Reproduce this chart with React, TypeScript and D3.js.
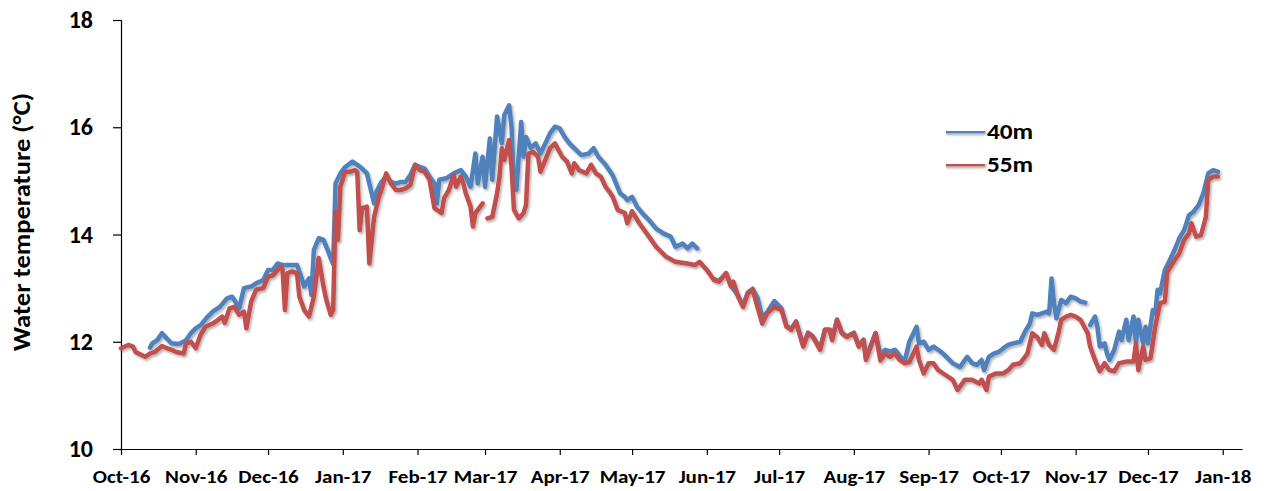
import { useEffect, useRef } from "react";
import * as d3 from "d3";

// 55m logger (red) — daily means
const dates55 = [
  "2016-10-01", "2016-10-04", "2016-10-06", "2016-10-07", "2016-10-11", "2016-10-13", "2016-10-15", "2016-10-18",
  "2016-10-20", "2016-10-22", "2016-10-24", "2016-10-27", "2016-10-28", "2016-10-30", "2016-11-01", "2016-11-03",
  "2016-11-05", "2016-11-08", "2016-11-10", "2016-11-12", "2016-11-13", "2016-11-15", "2016-11-17", "2016-11-19",
  "2016-11-21", "2016-11-22", "2016-11-24", "2016-11-26", "2016-11-29", "2016-12-01", "2016-12-03", "2016-12-05",
  "2016-12-06", "2016-12-07", "2016-12-08", "2016-12-09", "2016-12-11", "2016-12-13", "2016-12-14", "2016-12-16",
  "2016-12-18", "2016-12-20", "2016-12-22", "2016-12-24", "2016-12-25", "2016-12-27", "2016-12-28", "2016-12-29",
  "2016-12-30", "2016-12-31", "2017-01-02", "2017-01-04", "2017-01-06", "2017-01-07", "2017-01-08", "2017-01-09",
  "2017-01-11", "2017-01-12", "2017-01-14", "2017-01-16", "2017-01-17", "2017-01-19", "2017-01-21", "2017-01-23",
  "2017-01-25", "2017-01-27", "2017-01-29", "2017-01-31", "2017-02-02", "2017-02-04", "2017-02-06", "2017-02-08",
  "2017-02-10", "2017-02-11", "2017-02-12", "2017-02-14", "2017-02-16", "2017-02-17", "2017-02-19", "2017-02-20",
  "2017-02-21", "2017-02-23", "2017-02-24", "2017-02-25", "2017-02-27", "2017-02-28", "2017-03-01", "2017-03-02",
  "2017-03-04", "2017-03-06", "2017-03-07", "2017-03-08", "2017-03-09", "2017-03-11", "2017-03-12", "2017-03-13",
  "2017-03-15", "2017-03-17", "2017-03-18", "2017-03-19", "2017-03-21", "2017-03-23", "2017-03-24", "2017-03-26",
  "2017-03-28", "2017-03-30", "2017-03-31", "2017-04-02", "2017-04-04", "2017-04-06", "2017-04-07", "2017-04-09",
  "2017-04-12", "2017-04-14", "2017-04-16", "2017-04-18", "2017-04-20", "2017-04-22", "2017-04-23", "2017-04-25",
  "2017-04-28", "2017-04-29", "2017-05-01", "2017-05-04", "2017-05-08", "2017-05-11", "2017-05-15", "2017-05-19",
  "2017-05-24", "2017-05-27", "2017-05-29", "2017-06-01", "2017-06-04", "2017-06-06", "2017-06-09", "2017-06-11",
  "2017-06-12", "2017-06-14", "2017-06-16", "2017-06-18", "2017-06-20", "2017-06-22", "2017-06-24", "2017-06-26",
  "2017-06-29", "2017-07-02", "2017-07-04", "2017-07-06", "2017-07-08", "2017-07-11", "2017-07-13", "2017-07-15",
  "2017-07-18", "2017-07-20", "2017-07-22", "2017-07-23", "2017-07-25", "2017-07-27", "2017-07-29", "2017-08-01",
  "2017-08-03", "2017-08-05", "2017-08-06", "2017-08-08", "2017-08-10", "2017-08-12", "2017-08-14", "2017-08-16",
  "2017-08-18", "2017-08-20", "2017-08-22", "2017-08-24", "2017-08-27", "2017-08-28", "2017-08-30", "2017-09-01",
  "2017-09-03", "2017-09-05", "2017-09-08", "2017-09-11", "2017-09-13", "2017-09-16", "2017-09-19", "2017-09-22",
  "2017-09-23", "2017-09-25", "2017-09-26", "2017-09-29", "2017-10-02", "2017-10-04", "2017-10-06", "2017-10-09",
  "2017-10-12", "2017-10-14", "2017-10-16", "2017-10-18", "2017-10-19", "2017-10-21", "2017-10-23", "2017-10-25",
  "2017-10-26", "2017-10-28", "2017-10-30", "2017-11-01", "2017-11-03", "2017-11-06", "2017-11-07", "2017-11-09",
  "2017-11-11", "2017-11-13", "2017-11-15", "2017-11-17", "2017-11-19", "2017-11-22", "2017-11-25", "2017-11-26",
  "2017-11-27", "2017-11-29", "2017-11-30", "2017-12-02", "2017-12-04", "2017-12-06", "2017-12-08", "2017-12-09",
  "2017-12-12", "2017-12-14", "2017-12-16", "2017-12-18", "2017-12-19", "2017-12-21", "2017-12-23", "2017-12-25",
  "2017-12-26", "2017-12-28", "2017-12-30",
];
const temp55: (number | null)[] = [
  11.88, 11.94, 11.91, 11.81, 11.72, 11.78, 11.81, 11.92,
  11.88, 11.85, 11.81, 11.78, 11.97, 12.0, 11.88, 12.13,
  12.28, 12.34, 12.4, 12.47, 12.35, 12.62, 12.65, 12.5,
  12.56, 12.25, 12.75, 12.97, 13.0, 13.21, 13.24, 13.34,
  13.4, 13.35, 12.59, 13.28, 13.31, 13.28, 12.84, 12.59,
  12.47, 12.84, 13.56, 13.03, 12.81, 12.5, 12.59, 14.43,
  13.9, 14.89, 15.17, 15.17, 15.2, 15.17, 14.08, 14.49,
  14.52, 13.46, 14.33, 14.7, 14.83, 15.14, 14.95, 14.83,
  14.83, 14.86, 14.92, 15.3, 15.2, 15.17, 15.02, 14.49,
  14.43, 14.4, 14.68, 14.83, 15.11, 14.89, 15.08, 14.95,
  14.77, 14.52, 14.15, 14.4, 14.52, 14.58, null, 14.3,
  14.33, 14.77, 15.08, 15.61, 15.39, 15.76, 15.26, 14.46,
  14.3, 14.4, 14.55, 15.51, 15.54, 15.45, 15.17, 15.39,
  15.61, 15.7, 15.61, 15.45, 15.36, 15.14, 15.33, 15.2,
  15.14, 15.3, 15.14, 15.08, 14.89, 14.77, 14.7, 14.46,
  14.4, 14.21, 14.43, 14.21, 13.96, 13.77, 13.59, 13.49,
  13.46, 13.43, 13.49, 13.34, 13.15, 13.12, 13.28, 13.03,
  13.12, 12.84, 12.65, 12.9, 12.97, 12.65, 12.34, 12.53,
  12.65, 12.59, 12.28, 12.22, 12.37, 11.91, 12.16, 12.09,
  11.85, 12.22, 12.22, 12.03, 12.41, 12.16, 12.09, 12.16,
  11.91, 12.03, 11.66, 11.91, 12.16, 11.65, 11.78, 11.72,
  11.78, 11.66, 11.6, 11.62, 11.91, 11.66, 11.41, 11.6,
  11.6, 11.47, 11.38, 11.29, 11.1, 11.29, 11.29, 11.22,
  11.29, 11.1, 11.35, 11.41, 11.41, 11.47, 11.57, 11.6,
  11.78, 12.16, 12.09, 11.94, 12.16, 11.94, 11.85, 12.19,
  12.41, 12.47, 12.5, 12.47, 12.41, 12.16, 11.91, 11.66,
  11.45, 11.6, 11.47, 11.45, 11.6, 11.63, 11.63, 11.97,
  11.47, 11.91, 11.66, 11.69, 12.28, 12.72, 12.75, 13.3,
  13.52, 13.65, 13.9, 14.02, 14.21, 13.96, 13.99, 14.33,
  15.02, 15.08, 15.08,
];

// 40m logger (blue)
const dates40 = [
  "2016-10-13", "2016-10-14", "2016-10-16", "2016-10-18", "2016-10-20", "2016-10-22", "2016-10-25", "2016-10-28",
  "2016-10-30", "2016-11-01", "2016-11-03", "2016-11-06", "2016-11-08", "2016-11-11", "2016-11-14", "2016-11-16",
  "2016-11-17", "2016-11-19", "2016-11-21", "2016-11-24", "2016-11-26", "2016-11-29", "2016-12-01", "2016-12-03",
  "2016-12-05", "2016-12-07", "2016-12-09", "2016-12-11", "2016-12-13", "2016-12-15", "2016-12-16", "2016-12-18",
  "2016-12-19", "2016-12-20", "2016-12-22", "2016-12-24", "2016-12-26", "2016-12-27", "2016-12-28", "2016-12-29",
  "2016-12-31", "2017-01-02", "2017-01-05", "2017-01-07", "2017-01-09", "2017-01-11", "2017-01-12", "2017-01-14",
  "2017-01-15", "2017-01-17", "2017-01-19", "2017-01-21", "2017-01-23", "2017-01-25", "2017-01-27", "2017-01-29",
  "2017-01-31", "2017-02-02", "2017-02-04", "2017-02-06", "2017-02-08", "2017-02-09", "2017-02-10", "2017-02-13",
  "2017-02-16", "2017-02-19", "2017-02-21", "2017-02-23", "2017-02-25", "2017-02-26", "2017-02-28", "2017-03-01",
  "2017-03-03", "2017-03-04", "2017-03-06", "2017-03-08", "2017-03-09", "2017-03-11", "2017-03-12", "2017-03-13",
  "2017-03-14", "2017-03-16", "2017-03-17", "2017-03-18", "2017-03-20", "2017-03-22", "2017-03-24", "2017-03-26",
  "2017-03-28", "2017-03-30", "2017-04-01", "2017-04-03", "2017-04-05", "2017-04-07", "2017-04-10", "2017-04-13",
  "2017-04-15", "2017-04-17", "2017-04-20", "2017-04-23", "2017-04-26", "2017-04-28", "2017-04-29", "2017-05-01",
  "2017-05-03", "2017-05-06", "2017-05-08", "2017-05-11", "2017-05-14", "2017-05-17", "2017-05-19", "2017-05-22",
  "2017-05-24", "2017-05-26", "2017-05-28", "2017-05-29", "2017-06-04", "2017-06-06", "2017-06-09", "2017-06-11",
  "2017-06-14", "2017-06-16", "2017-06-18", "2017-06-20", "2017-06-22", "2017-06-24", "2017-06-26", "2017-06-29",
  "2017-07-02", "2017-07-04", "2017-07-06", "2017-07-08", "2017-07-11", "2017-07-13", "2017-07-15", "2017-07-18",
  "2017-07-20", "2017-07-22", "2017-07-23", "2017-07-25", "2017-07-27", "2017-07-29", "2017-08-01", "2017-08-03",
  "2017-08-05", "2017-08-06", "2017-08-08", "2017-08-10", "2017-08-12", "2017-08-14", "2017-08-16", "2017-08-18",
  "2017-08-20", "2017-08-22", "2017-08-24", "2017-08-27", "2017-08-28", "2017-08-30", "2017-09-01", "2017-09-03",
  "2017-09-05", "2017-09-07", "2017-09-09", "2017-09-11", "2017-09-14", "2017-09-17", "2017-09-19", "2017-09-21",
  "2017-09-23", "2017-09-24", "2017-09-26", "2017-09-28", "2017-09-30", "2017-10-02", "2017-10-04", "2017-10-06",
  "2017-10-09", "2017-10-11", "2017-10-13", "2017-10-14", "2017-10-16", "2017-10-18", "2017-10-20", "2017-10-21",
  "2017-10-22", "2017-10-23", "2017-10-24", "2017-10-26", "2017-10-28", "2017-10-30", "2017-11-01", "2017-11-03",
  "2017-11-05", "2017-11-06", "2017-11-07", "2017-11-09", "2017-11-10", "2017-11-11", "2017-11-13", "2017-11-14",
  "2017-11-15", "2017-11-17", "2017-11-19", "2017-11-20", "2017-11-22", "2017-11-23", "2017-11-25", "2017-11-26",
  "2017-11-27", "2017-11-29", "2017-11-30", "2017-12-01", "2017-12-03", "2017-12-04", "2017-12-05", "2017-12-06",
  "2017-12-08", "2017-12-10", "2017-12-12", "2017-12-14", "2017-12-16", "2017-12-18", "2017-12-20", "2017-12-22",
  "2017-12-24", "2017-12-26", "2017-12-28", "2017-12-30",
];
const temp40: (number | null)[] = [
  11.89, 11.97, 12.03, 12.16, 12.06, 11.97, 11.96, 12.03,
  12.16, 12.25, 12.31, 12.47, 12.56, 12.65, 12.81, 12.84,
  12.78, 12.62, 13.0, 13.03, 13.09, 13.15, 13.34, 13.34,
  13.46, 13.43, 13.43, 13.43, 13.43, 13.18, 13.03, 13.18,
  12.87, 13.71, 13.93, 13.9, 13.68, 13.56, 13.45, 14.95,
  15.14, 15.26, 15.36, 15.3, 15.23, 15.14, 14.95, 14.58,
  14.8, 14.98, 15.08, 14.98, 14.95, 14.98, 14.98, 15.11,
  15.3, 15.26, 15.23, 15.08, 14.95, 14.58, 15.02, 15.05,
  15.14, 15.2, 15.08, 14.89, 15.51, 14.95, 15.45, 14.89,
  15.79, 15.02, 16.2, 15.7, 16.23, 16.41, 16.01, 14.89,
  14.83, 16.1, 15.45, 15.82, 15.61, 15.7, 15.51, 15.7,
  15.89, 16.01, 15.98, 15.82, 15.7, 15.61, 15.48, 15.51,
  15.61, 15.45, 15.3, 15.1, 14.77, 14.7, 14.64, 14.7,
  14.52, 14.36, 14.27, 14.11, 14.02, 13.96, 13.77, 13.83,
  13.74, 13.83, 13.74, null, 13.17, 13.13, 13.28, 13.05,
  12.86, 12.67, 12.92, 12.99, 12.82, 12.45, 12.55, 12.76,
  12.62, 12.3, 12.24, 12.38, 11.93, 12.17, 12.1, 11.87,
  12.23, 12.23, 12.05, 12.41, 12.17, 12.1, 12.17, 11.93,
  12.04, 11.7, 11.93, 12.16, 11.76, 11.85, 11.82, 11.85,
  11.74, 11.62, 12.0, 12.28, 11.97, 12.0, 11.85, 11.91,
  11.85, 11.78, 11.69, 11.6, 11.53, 11.72, 11.6, 11.57,
  11.66, 11.47, 11.72, 11.78, 11.81, 11.88, 11.94, 11.97,
  12.0, 12.19, 12.34, 12.53, 12.5, 12.53, 12.56, 12.53,
  13.18, 12.72, 12.44, 12.78, 12.72, 12.84, 12.81, 12.75,
  12.73, null, 12.31, 12.47, 12.28, 11.91, 11.97, 11.78,
  11.66, 11.85, 12.19, 12.03, 12.41, 12.03, 12.47, 11.97,
  12.41, 11.97, 12.28, 11.97, 12.59, 12.53, 12.97, 12.9,
  13.34, 13.52, 13.71, 13.93, 14.08, 14.36, 14.43, 14.55,
  14.77, 15.14, 15.2, 15.17,
];

const seriesNames = ["40m", "55m"];
const seriesColors = ["#4F81BD", "#C0504D"];
const yTicks = [10, 12, 14, 16, 18];
const xStart = "2016-10-01";
const xEnd = "2018-01-09";
const yTitle = "Water temperature (°C)";

const W = 1265;
const H = 491;
const FONT = "Carlito, Calibri, Lato, sans-serif";

type Pt = { date: Date; value: number | null };

export default function App() {
  const ref = useRef<SVGSVGElement | null>(null);

  useEffect(() => {
    if (!ref.current) return;
    const parse = d3.timeParse("%Y-%m-%d");
    const svg = d3.select(ref.current);
    svg.selectAll("*").remove();

    const x = d3
      .scaleTime()
      .domain([parse(xStart)!, parse(xEnd)!])
      .range([121, 1242]);
    const y = d3.scaleLinear().domain([10, 18]).range([449, 20]);

    // soft drop shadow like the office chart effect
    const f = svg
      .append("defs")
      .append("filter")
      .attr("id", "shadow")
      .attr("filterUnits", "userSpaceOnUse")
      .attr("x", 0)
      .attr("y", 0)
      .attr("width", W)
      .attr("height", H);
    f.append("feDropShadow")
      .attr("dx", 1.5)
      .attr("dy", 2)
      .attr("stdDeviation", 1.3)
      .attr("flood-color", "#000")
      .attr("flood-opacity", 0.3);

    // ---------- axes ----------
    const yAxis = svg
      .append("g")
      .attr("transform", `translate(${x.range()[0]},0)`)
      .call(d3.axisLeft(y).tickValues(yTicks).tickSize(8).tickPadding(20).tickFormat(d3.format("d")));
    yAxis.select(".domain").attr("stroke", "#000").attr("stroke-width", 1.2);
    yAxis.selectAll(".tick line").attr("stroke", "#000").attr("stroke-width", 1.2);
    yAxis
      .selectAll(".tick text")
      .attr("font-family", FONT)
      .attr("font-weight", "bold")
      .attr("font-size", 24)
      .attr("fill", "#000");

    const xAxis = svg
      .append("g")
      .attr("transform", `translate(0,${y(10)})`)
      .call(
        d3
          .axisBottom(x)
          .ticks(d3.timeMonth.every(1))
          .tickSize(6)
          .tickSizeOuter(0)
          .tickPadding(15)
          .tickFormat((d) => d3.timeFormat("%b-%y")(d as Date)),
      );
    xAxis.select(".domain").attr("stroke", "#000").attr("stroke-width", 1.2);
    xAxis.selectAll(".tick line").attr("stroke", "#000").attr("stroke-width", 1.2);
    xAxis
      .selectAll(".tick text")
      .attr("font-family", FONT)
      .attr("font-weight", "bold")
      .attr("font-size", 18)
      .attr("transform", "scale(1.17,1)")
      .attr("fill", "#000");

    svg
      .append("text")
      .attr("transform", `translate(30,222) rotate(-90) scale(1.06,1)`)
      .attr("text-anchor", "middle")
      .attr("font-family", FONT)
      .attr("font-weight", "bold")
      .attr("font-size", 25)
      .attr("fill", "#000")
      .text(yTitle);

    // ---------- lines ----------
    const toPts = (ds: string[], vs: (number | null)[]): Pt[] =>
      ds.map((d, i) => ({ date: parse(d)!, value: vs[i] }));
    const series = [toPts(dates40, temp40), toPts(dates55, temp55)];

    const line = d3
      .line<Pt>()
      .defined((d) => d.value !== null)
      .x((d) => x(d.date))
      .y((d) => y(d.value as number));

    const lines = svg.append("g").attr("filter", "url(#shadow)");
    series.forEach((pts, i) => {
      lines
        .append("path")
        .datum(pts)
        .attr("fill", "none")
        .attr("stroke", seriesColors[i])
        .attr("stroke-width", 4.5)
        .attr("stroke-linejoin", "round")
        .attr("stroke-linecap", "round")
        .attr("d", line);
    });

    // ---------- legend ----------
    const legend = svg.append("g").attr("transform", "translate(946,131)");
    seriesNames.forEach((name, i) => {
      const g = legend.append("g").attr("transform", `translate(0,${i * 33})`);
      g.append("line")
        .attr("x1", 0)
        .attr("x2", 37)
        .attr("stroke", seriesColors[i])
        .attr("stroke-width", 4.5)
        .attr("stroke-linecap", "round")
        .attr("filter", "url(#shadow)");
      g.append("text")
        .attr("transform", "translate(41,0) scale(1.15,1)")
        .attr("dy", "0.35em")
        .attr("font-family", FONT)
        .attr("font-weight", "bold")
        .attr("font-size", 22)
        .attr("fill", "#000")
        .text(name);
    });
  }, []);

  return (
    <svg
      ref={ref}
      width={W}
      height={H}
      style={{ position: "absolute", left: 0, top: 0, background: "#fff" }}
    />
  );
}
